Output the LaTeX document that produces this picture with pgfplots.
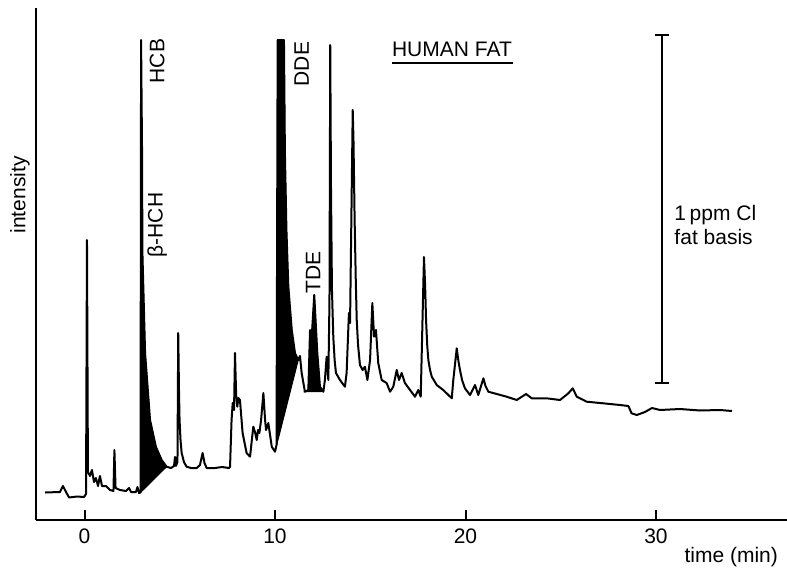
\documentclass[border=0pt]{standalone}
\usepackage{fontspec}
\setmainfont{Liberation Sans}
\usepackage{pgfplots}
\pgfplotsset{compat=1.18}

\begin{document}
\begin{tikzpicture}
\begin{axis}[
  scale only axis, width=375.5pt, height=256pt,
  xmin=-2.546, xmax=36.877, ymin=0, ymax=512,
  axis lines*=left,
  axis line style={line width=1pt},
  xtick={0,10,20,30}, ytick=\empty,
  tick align=inside, major tick length=5pt,
  tick style={line width=1pt, black},
  font=\fontsize{10.5}{12}\selectfont,
  /pgf/number format/assume math mode=true,
  xticklabel style={yshift=-1pt},
  clip=false,
]
% chromatogram trace (time in min, detector response in arbitrary units)
\addplot[black, line width=1pt, line join=round] coordinates {
  (-2.07,27.5) (-1.29,28) (-1.13,34) (-0.97,28) (-0.81,22.5) (-0.39,23.5)
  (-0.03,23) (0.08,26) (0.13,280) (0.18,48) (0.29,44) (0.39,50) (0.50,38)
  (0.60,42) (0.71,34) (0.81,44) (0.92,34) (1.13,34) (1.34,30) (1.52,29)
  (1.57,70) (1.63,32) (1.86,30) (2.18,29) (2.34,32) (2.44,28) (2.70,28)
  (2.78,33) (2.86,27) (2.94,27.5)
  (2.97,480) (3.02,370) (3.04,267) (3.18,167) (3.44,100) (3.75,73)
  (4.05,60) (4.31,53.3) (4.54,52) (4.70,54) (4.75,63) (4.80,54) (4.88,58)
  (4.92,187) (4.96,130) (4.99,100) (5.04,80) (5.10,67) (5.22,58) (5.36,53.3)
  (5.59,52) (5.89,52)
  (6.06,55) (6.20,67) (6.30,57) (6.41,52) (6.85,52) (7.22,53) (7.59,52)
  (7.64,53.3) (7.72,100) (7.78,117) (7.85,110) (7.90,167) (7.96,125)
  (8.02,113.3) (8.08,122) (8.16,120) (8.30,87) (8.51,67) (8.69,63.3)
  (8.86,93.3) (8.95,88) (9.04,80) (9.11,90) (9.18,87) (9.27,100) (9.39,127)
  (9.48,100) (9.53,90) (9.65,97) (9.83,73.3) (10.00,68.3)
  (10.08,75) (10.14,480) (10.47,480) (10.52,367) (10.60,290) (10.70,233.3)
  (10.88,190) (11.05,166.7) (11.22,160) (11.31,164) (11.40,147) (11.57,128.3)
  (11.75,130) (11.84,190) (11.92,180) (12.06,225) (12.22,167) (12.36,133.3)
  (12.54,128.3) (12.62,140) (12.71,163.3) (12.80,140) (12.86,220) (12.90,475)
  (12.94,330) (12.99,230) (13.06,183.3) (13.13,160) (13.20,147) (13.41,140)
  (13.67,133.3) (13.76,147)
  (13.88,207) (13.94,197) (14.08,410) (14.12,380) (14.18,300) (14.24,240)
  (14.29,200) (14.36,175) (14.46,155)
  (14.60,150) (14.72,153.3) (14.85,140) (14.99,160) (15.11,217) (15.20,183.3)
  (15.30,190) (15.42,157) (15.60,140) (15.86,137) (16.04,128.3) (16.21,133.3)
  (16.39,150) (16.51,140) (16.65,147) (16.82,137) (17.09,130) (17.35,123.3)
  (17.52,130) (17.65,123.3) (17.82,263) (17.88,235) (17.93,200) (17.99,175)
  (18.05,160) (18.14,150) (18.23,143.3)
  (18.49,135) (18.83,130) (19.01,126.7) (19.28,121.7) (19.36,140) (19.54,171.7)
  (19.62,160) (19.71,150) (19.82,140) (19.97,131.7) (20.24,125) (20.50,135)
  (20.67,125) (20.94,141.7) (21.05,134)
  (21.20,128.3) (21.64,126) (22.16,123.3) (22.69,120) (23.18,126) (23.48,121.7)
  (24.26,121.7) (24.96,120) (25.40,126.7) (25.63,131.7) (25.84,123.3)
  (26.36,118.3) (27.23,116.7) (28.11,115) (28.55,114) (28.72,106.7) (28.99,105)
  (29.42,108) (29.79,112) (30.21,110) (31.26,111) (32.31,109.5) (33.36,110)
  (33.99,109)
};
% shaded peak areas
\addplot[fill=black, draw=black, line width=0.5pt] coordinates {
  (2.94,27.5) (2.99,267) (3.04,267) (3.18,167) (3.44,100) (3.75,73)
  (4.05,60) (4.31,53.3)} -- cycle;
\addplot[fill=black, draw=black, line width=0.5pt] coordinates {
  (10.00,68.3) (10.14,80) (10.14,480) (10.47,480) (10.52,367) (10.60,290)
  (10.70,233.3) (10.88,190) (11.05,166.7) (11.22,160)} -- cycle;
\addplot[fill=black, draw=black, line width=0.5pt] coordinates {
  (11.57,128.3) (11.75,130) (11.84,190) (11.92,180) (12.06,225) (12.22,167)
  (12.36,133.3) (12.54,128.3)} -- cycle;

% peak labels
\node[rotate=90] at (axis cs:3.81,459) {HCB};
\node[rotate=90] at (axis cs:3.81,295) {β-HCH};
\node[rotate=90] at (axis cs:11.40,456) {DDE};
\node[rotate=90] at (axis cs:12.00,248) {TDE};
\node at (axis cs:19.29,471) {HUMAN FAT};
\draw[line width=1pt] (axis cs:16.14,457) -- (axis cs:22.50,457);

% 1 ppm scale bar
\draw[line width=1pt] (axis cs:30.33,137) -- (axis cs:30.33,485);
\draw[line width=1pt] (axis cs:29.96,485) -- (axis cs:30.70,485);
\draw[line width=1pt] (axis cs:29.96,137) -- (axis cs:30.70,137);
\node[anchor=west, align=left] at (axis cs:30.60,295) {1\,ppm Cl\\fat basis};

\node[rotate=90] at (axis cs:-3.39,325) {intensity};
\node[anchor=east] at (axis cs:36.77,-37) {time (min)};
\end{axis}
\pgfresetboundingbox
\path[use as bounding box] ([xshift=-18pt,yshift=-24.5pt]current axis.south west)
  rectangle ([yshift=4pt]current axis.north east);
\end{tikzpicture}
\end{document}
